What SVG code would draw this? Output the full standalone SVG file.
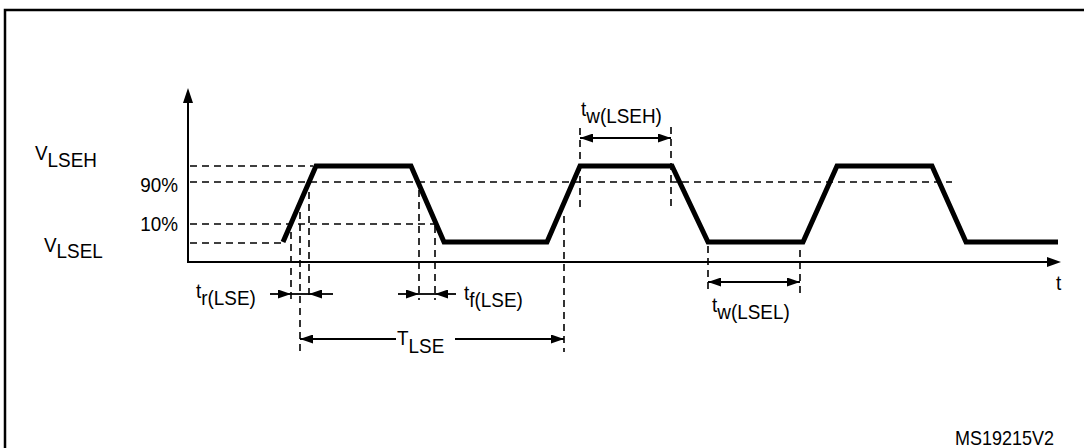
<svg xmlns="http://www.w3.org/2000/svg" width="1084" height="448" viewBox="0 0 1084 448">
<defs>
<marker id="ah" viewBox="0 0 13 9" refX="13" refY="4.5" markerWidth="13" markerHeight="9" markerUnits="userSpaceOnUse" orient="auto-start-reverse">
<path d="M0,0 L13,4.5 L0,9 z" fill="#000"/>
</marker>
<style>
.frame{fill:none;stroke:#000;stroke-width:2.5}
.axis{fill:none;stroke:#000;stroke-width:2}
.wave{fill:none;stroke:#000;stroke-width:5;stroke-linejoin:miter}
.dash{fill:none;stroke:#000;stroke-width:1.6;stroke-dasharray:7,5}
.dim{fill:none;stroke:#000;stroke-width:1.8}
text{font-family:"Liberation Sans",Arial,sans-serif;font-size:21px;fill:#000}
</style>
</defs>
<rect class="frame" x="5" y="10" width="1100" height="500"/>
<g id="axes">
<line class="axis" x1="188" y1="262" x2="188" y2="100"/>
<polygon points="188,88 183,103 193,103" fill="#000"/>
<line class="axis" x1="187" y1="262" x2="1049" y2="262"/>
<polygon points="1061,262 1047,257 1047,267" fill="#000"/>
<text transform="translate(1056,290) scale(0.9,1)">t</text>
</g>
<g id="levels">
<line class="dash" x1="190" y1="166" x2="313" y2="166"/>
<line class="dash" x1="190" y1="182" x2="952" y2="182"/>
<line class="dash" x1="190" y1="224" x2="437" y2="224"/>
<line class="dash" x1="190" y1="243" x2="282" y2="243"/>
<text transform="translate(35,160) scale(0.9,1)">V<tspan dy="7">LSEH</tspan></text>
<text transform="translate(178,192) scale(0.9,1)" text-anchor="end">90%</text>
<text transform="translate(178,231) scale(0.9,1)" text-anchor="end">10%</text>
<text transform="translate(44,252) scale(0.9,1)">V<tspan dy="6">LSEL</tspan></text>
</g>
<g id="waveform">
<path class="wave" d="M283,242 L316,166 L411,166 L444,242 L547,242 L580,166 L672,166 L708,242 L803,242 L837,166 L932,166 L966,242 L1058,242"/>
</g>
<g id="guides">
<line class="dash" x1="291" y1="232" x2="291" y2="300"/>
<line class="dash" x1="300" y1="212" x2="300" y2="352"/>
<line class="dash" x1="309" y1="192" x2="309" y2="300"/>
<line class="dash" x1="419" y1="190" x2="419" y2="300"/>
<line class="dash" x1="435" y1="226" x2="435" y2="300"/>
<line class="dash" x1="564" y1="216" x2="564" y2="352"/>
<line class="dash" x1="580" y1="128" x2="580" y2="208"/>
<line class="dash" x1="671" y1="127" x2="671" y2="206"/>
<line class="dash" x1="708" y1="246" x2="708" y2="289"/>
<line class="dash" x1="800" y1="250" x2="800" y2="295"/>
</g>
<g id="connectors">
<path class="dim" d="M270,294 L291,294" marker-end="url(#ah)"/>
<path class="dim" d="M291,294 L309,294"/>
<path class="dim" d="M333,294 L309,294" marker-end="url(#ah)"/>
<path class="dim" d="M398,294 L419,294" marker-end="url(#ah)"/>
<path class="dim" d="M419,294 L435,294"/>
<path class="dim" d="M456,294 L435,294" marker-end="url(#ah)"/>
<path class="dim" d="M396,339 L300,339" marker-end="url(#ah)"/>
<path class="dim" d="M455,339 L564,339" marker-end="url(#ah)"/>
<path class="dim" d="M580,138 L671,138" marker-start="url(#ah)" marker-end="url(#ah)"/>
<path class="dim" d="M708,282 L800,282" marker-start="url(#ah)" marker-end="url(#ah)"/>
</g>
<g id="labels">
<text transform="translate(196,298) scale(0.9,1)">t<tspan dy="7">r(LSE)</tspan></text>
<text transform="translate(464,300) scale(0.9,1)">t<tspan dy="7">f(LSE)</tspan></text>
<text transform="translate(397,345) scale(0.9,1)">T<tspan dy="8">LSE</tspan></text>
<text transform="translate(581,116) scale(0.9,1)">t<tspan dy="7">w(LSEH)</tspan></text>
<text transform="translate(712,312) scale(0.9,1)">t<tspan dy="7">w(LSEL)</tspan></text>
<text transform="translate(955,445) scale(0.9,1)" style="font-size:20px">MS19215V2</text>
</g>
</svg>
